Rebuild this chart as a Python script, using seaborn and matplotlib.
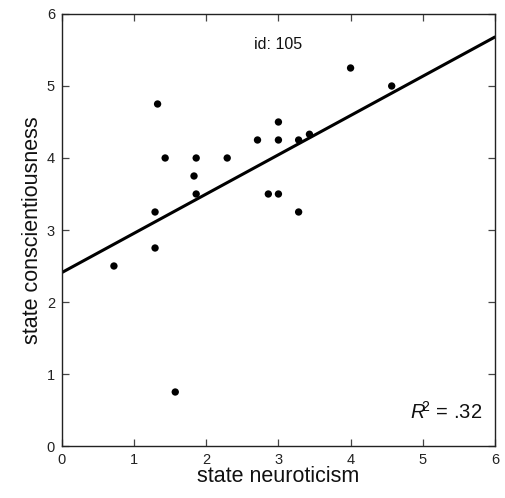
import matplotlib
matplotlib.use("Agg")
import matplotlib.pyplot as plt
import numpy as np
import pandas as pd
import seaborn as sns

# Daily state ratings for participant 105
neuroticism = [0.72, 1.29, 1.29, 1.325, 1.43, 1.57, 1.83, 1.86, 1.86, 2.29,
               2.71, 2.86, 3.0, 3.0, 3.0, 3.28, 3.28, 3.43, 4.0, 4.57]
conscientiousness = [2.5, 3.25, 2.75, 4.75, 4.0, 0.75, 3.75, 4.0, 3.5, 4.0,
                     4.25, 3.5, 3.5, 4.25, 4.5, 4.25, 3.25, 4.33, 5.25, 5.0]

# Fitted within-person slope
fit_intercept = 2.41
fit_slope = 0.545
fit_range = [0, 6]
r_squared = ".32"
participant = "105"

ticks = [0, 1, 2, 3, 4, 5, 6]

sns.set_theme(style="ticks")
plt.rcParams["font.family"] = ["Liberation Sans", "DejaVu Sans"]
plt.rcParams["mathtext.fontset"] = "custom"
plt.rcParams["mathtext.rm"] = "Liberation Sans"
plt.rcParams["mathtext.it"] = "Liberation Sans:italic"

df = pd.DataFrame({"x": neuroticism, "y": conscientiousness})
fit_x = np.array(fit_range, dtype=float)
fit_df = pd.DataFrame({"x": fit_x, "y": fit_intercept + fit_slope * fit_x})

fig = plt.figure(figsize=(5.06, 4.98), dpi=100)
ax = fig.add_axes([0.1225, 0.1044, 0.8555, 0.8675])

sns.lineplot(data=fit_df, x="x", y="y", color="black", linewidth=2.2, ax=ax)
sns.scatterplot(data=df, x="x", y="y", color="black", s=28, edgecolor="none",
                ax=ax, zorder=3)

ax.set_xlim(0, 6)
ax.set_ylim(0, 6)
ax.set_xticks(ticks)
ax.set_yticks(ticks)
ax.tick_params(direction="in", length=5, width=0.9, color="#444444",
               labelsize=10.5, labelcolor="#222222", top=True, right=True,
               pad=5)
for sp in ax.spines.values():
    sp.set_linewidth(1.0)
    sp.set_color("#222222")

ax.set_xlabel("state neuroticism", fontsize=15.5, labelpad=-1, color="#111111")
ax.set_ylabel("state conscientiousness", fontsize=15.5, labelpad=3,
              color="#111111")

ax.text(0.5, 0.93, f"id: {participant}", transform=ax.transAxes,
        ha="center", va="center", fontsize=11.5, color="#111111")
ax.text(0.97, 0.062, r"$\mathit{R}^{\!\!2}$" + f" = {r_squared}",
        transform=ax.transAxes, ha="right", va="baseline", fontsize=14.5,
        color="#111111")

fig.savefig("out.png", dpi=100, facecolor="white")
